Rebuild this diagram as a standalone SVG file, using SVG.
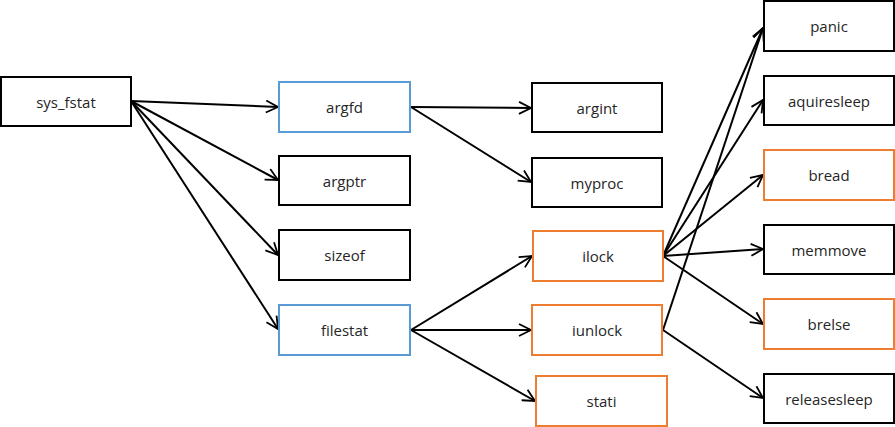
<svg xmlns="http://www.w3.org/2000/svg" width="895" height="427" viewBox="0 0 895 427">
<defs>
<marker id="arr" markerUnits="userSpaceOnUse" markerWidth="14" markerHeight="14" viewBox="0 0 14 14" refX="13" refY="7" orient="auto">
<path d="M1,1 L13,7 L1,13" fill="none" stroke="#000" stroke-width="1.8"/>
</marker>
<style>
rect{fill:#fff;stroke-width:2}
.k{stroke:#000}
.b{stroke:#5B9BD5}
.o{stroke:#ED7D31}
text{font-family:"Open Sans","Liberation Sans",sans-serif;font-size:15px;fill:#262626;text-anchor:middle;dominant-baseline:central}
#edges line{stroke:#000;stroke-width:2;marker-end:url(#arr)}
</style>
</defs>
<rect x="0" y="0" width="895" height="427" style="fill:#fff;stroke:none"/>
<g id="edges">
<line x1="131" y1="101" x2="278" y2="107"/>
<line x1="131" y1="101" x2="278" y2="180"/>
<line x1="131" y1="101" x2="278" y2="255"/>
<line x1="131" y1="101" x2="278" y2="329"/>
<line x1="411" y1="107" x2="531" y2="108"/>
<line x1="411" y1="107" x2="531" y2="182"/>
<line x1="411" y1="330" x2="532" y2="256"/>
<line x1="411" y1="330" x2="531" y2="330"/>
<line x1="411" y1="330" x2="535" y2="401"/>
<line x1="663" y1="256" x2="763" y2="28"/>
<line x1="663" y1="256" x2="763" y2="100"/>
<line x1="663" y1="256" x2="763" y2="175"/>
<line x1="663" y1="256" x2="763" y2="249"/>
<line x1="663" y1="256" x2="763" y2="324"/>
<line x1="663" y1="330" x2="763" y2="28"/>
<line x1="663" y1="330" x2="763" y2="398"/>
</g>
<g id="sys_fstat"><rect class="k" x="1" y="77" width="130" height="49"/><text x="66" y="101.5">sys_fstat</text></g>
<g id="argfd"><rect class="b" x="279" y="82" width="131" height="50"/><text x="344.5" y="107">argfd</text></g>
<g id="argptr"><rect class="k" x="279" y="156" width="131" height="49"/><text x="344.5" y="180.5">argptr</text></g>
<g id="sizeof"><rect class="k" x="279" y="230" width="131" height="50"/><text x="344.5" y="255">sizeof</text></g>
<g id="filestat"><rect class="b" x="279" y="305" width="131" height="50"/><text x="344.5" y="330">filestat</text></g>
<g id="argint"><rect class="k" x="532" y="83" width="130" height="49"/><text x="597" y="107.5">argint</text></g>
<g id="myproc"><rect class="k" x="532" y="158" width="130" height="49"/><text x="597" y="182.5">myproc</text></g>
<g id="ilock"><rect class="o" x="533" y="231" width="130" height="50"/><text x="598" y="256">ilock</text></g>
<g id="iunlock"><rect class="o" x="532" y="305" width="130" height="50"/><text x="597" y="330">iunlock</text></g>
<g id="stati"><rect class="o" x="536" y="376" width="131" height="50"/><text x="601.5" y="401">stati</text></g>
<g id="panic"><rect class="k" x="764" y="1" width="130" height="50"/><text x="829" y="26">panic</text></g>
<g id="aquiresleep"><rect class="k" x="764" y="76" width="130" height="49"/><text x="829" y="100.5">aquiresleep</text></g>
<g id="bread"><rect class="o" x="764" y="150" width="130" height="50"/><text x="829" y="175">bread</text></g>
<g id="memmove"><rect class="k" x="764" y="225" width="130" height="49"/><text x="829" y="249.5">memmove</text></g>
<g id="brelse"><rect class="o" x="764" y="299" width="130" height="50"/><text x="829" y="324">brelse</text></g>
<g id="releasesleep"><rect class="k" x="764" y="374" width="130" height="49"/><text x="829" y="398.5">releasesleep</text></g>
</svg>
